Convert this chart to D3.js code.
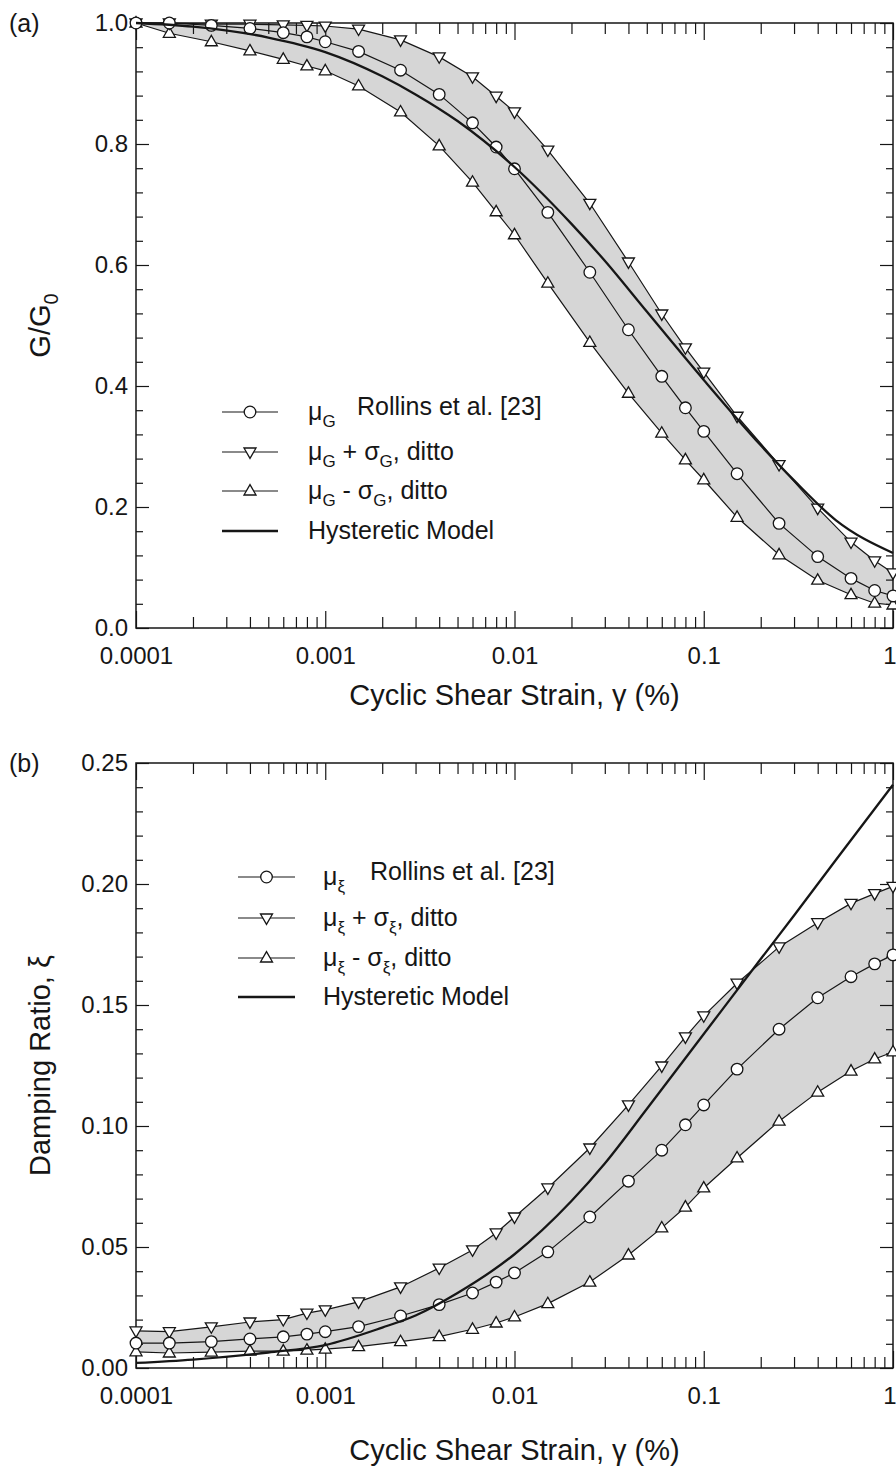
<!DOCTYPE html>
<html>
<head>
<meta charset="utf-8">
<script src="https://cdn.jsdelivr.net/npm/d3@7"></script>
<style>
  body { margin: 0; background: #ffffff; }
  svg text { font-family: "Liberation Sans", Arial, sans-serif; fill: #161616; }
</style>
</head>
<body>
<svg id="chart" width="896" height="1472"></svg>
<script>
// strain values where the Rollins et al. points sit (%)
var strain = [0.0001, 0.00015, 0.00025, 0.0004, 0.0006, 0.0008, 0.001, 0.0015, 0.0025, 0.004,
  0.006, 0.008, 0.01, 0.015, 0.025, 0.04, 0.06, 0.08, 0.1, 0.15, 0.25, 0.4, 0.6, 0.8, 1.0];

// (a) modulus reduction G/G0
var g_mean  = [1.0, 1.0, 0.996, 0.991, 0.984, 0.977, 0.969, 0.953, 0.922, 0.882,
  0.835, 0.795, 0.759, 0.687, 0.588, 0.493, 0.416, 0.364, 0.325, 0.255, 0.173, 0.118, 0.082, 0.062, 0.053];
var g_upper = [1.0, 1.0, 0.998, 0.998, 0.997, 0.996, 0.995, 0.99, 0.972, 0.944,
  0.911, 0.879, 0.853, 0.79, 0.702, 0.605, 0.519, 0.463, 0.423, 0.35, 0.27, 0.198, 0.142, 0.111, 0.091];
var g_lower = [1.0, 0.983, 0.969, 0.954, 0.94, 0.929, 0.921, 0.896, 0.853, 0.797,
  0.737, 0.688, 0.65, 0.57, 0.472, 0.388, 0.322, 0.278, 0.245, 0.183, 0.121, 0.079, 0.055, 0.041, 0.038];

// (b) damping ratio
var d_mean  = [0.0103, 0.0103, 0.0109, 0.012, 0.0129, 0.014, 0.015, 0.0171, 0.0215, 0.0262,
  0.031, 0.0355, 0.0393, 0.048, 0.0624, 0.0772, 0.090, 0.1005, 0.1087, 0.1235, 0.140, 0.153, 0.1617, 0.167, 0.1707];
var d_upper = [0.0153, 0.015, 0.017, 0.019, 0.020, 0.0227, 0.024, 0.0273, 0.0335, 0.0413,
  0.0488, 0.0558, 0.0624, 0.0744, 0.0909, 0.1087, 0.1248, 0.1368, 0.1455, 0.159, 0.174, 0.184, 0.192, 0.196, 0.199];
var d_lower = [0.0067, 0.0062, 0.0066, 0.007, 0.007, 0.0074, 0.0078, 0.0088, 0.0109, 0.013,
  0.016, 0.0186, 0.0211, 0.0266, 0.0355, 0.0467, 0.0579, 0.0665, 0.0744, 0.0868, 0.102, 0.114, 0.1227, 0.1277, 0.1306];

// hysteretic model curves
var hyst_strain  = [0.0001, 0.0002, 0.0005, 0.001, 0.002, 0.003, 0.005, 0.01, 0.02, 0.03, 0.05, 0.1, 0.2, 0.3, 0.5, 1.0];
var hyst_g       = [1.0, 0.994, 0.976, 0.952, 0.912, 0.882, 0.838, 0.762, 0.668, 0.607, 0.523, 0.41, 0.302, 0.244, 0.178, 0.124];
var hyst_damping = [0.0021, 0.0035, 0.0064, 0.0095, 0.0167, 0.0217, 0.031, 0.047, 0.069, 0.0845, 0.107, 0.138, 0.169, 0.187, 0.21, 0.241];

// ticks
var x_ticks = [0.0001, 0.001, 0.01, 0.1, 1];
var x_tick_labels = ['0.0001', '0.001', '0.01', '0.1', '1'];
var g_ticks = [0, 0.2, 0.4, 0.6, 0.8, 1.0];
var damping_ticks = [0, 0.05, 0.10, 0.15, 0.20, 0.25];

var svg = d3.select('#chart');
var left = 136, width = 757, height = 605;

var x = d3.scaleLog()
    .domain([0.0001, 1])
    .range([0, width]);

var x_minor = [];
[0.0001, 0.001, 0.01, 0.1].forEach(function(dec){
  for (var k = 2; k <= 9; k++) x_minor.push(k * dec);
});

var tri_up = 'M0,-6.4L6,4L-6,4Z';
var tri_down = 'M0,6.4L6,-4L-6,-4Z';

var style_axis = function(g){
  g.select('.domain').remove();
  g.selectAll('line').attr('stroke', '#161616').attr('stroke-width', 1.2);
  g.attr('font-family', null).attr('font-size', 24);
};

var draw_panel = function(p){
  var y = d3.scaleLinear()
      .domain(p.domain)
      .range([height, 0]);

  var g = svg.append('g')
      .attr('transform', 'translate(' + left + ',' + p.top + ')');

  var rows = strain.map(function(s, i){
    return {s: s, mean: p.mean[i], hi: p.upper[i], lo: p.lower[i]};
  });
  var hyst = hyst_strain.map(function(s, i){ return {s: s, v: p.hyst[i]}; });

  // grey band between mean +/- sigma
  var band = d3.area()
      .x(function(d){ return x(d.s); })
      .y0(function(d){ return y(d.lo); })
      .y1(function(d){ return y(d.hi); });
  g.append('path')
      .datum(rows)
      .attr('d', band)
      .attr('fill', '#d6d6d6');

  // axes, all ticks pointing inward
  var xb = g.append('g')
      .attr('transform', 'translate(0,' + height + ')')
      .call(d3.axisBottom(x).tickValues(x_ticks)
        .tickFormat(function(d, i){ return x_tick_labels[i]; })
        .tickSize(-17).tickPadding(19))
      .call(style_axis);
  // last label "1" sits on the right edge, keep it inside the page
  xb.selectAll('.tick text')
      .filter(function(d){ return d == 1; })
      .attr('text-anchor', 'end')
      .attr('x', 3);
  g.append('g')
      .attr('transform', 'translate(0,' + height + ')')
      .call(d3.axisBottom(x).tickValues(x_minor).tickFormat('').tickSize(-11))
      .call(style_axis);
  g.append('g')
      .call(d3.axisTop(x).tickValues(x_ticks).tickFormat('').tickSize(-17))
      .call(style_axis);
  g.append('g')
      .call(d3.axisTop(x).tickValues(x_minor).tickFormat('').tickSize(-11))
      .call(style_axis);

  g.append('g')
      .call(d3.axisLeft(y).tickValues(p.ticks).tickFormat(d3.format(p.fmt))
        .tickSize(-13).tickPadding(8))
      .call(style_axis);
  g.append('g')
      .call(d3.axisLeft(y).tickValues(p.minor).tickFormat('').tickSize(-7))
      .call(style_axis);
  g.append('g')
      .attr('transform', 'translate(' + width + ',0)')
      .call(d3.axisRight(y).tickValues(p.ticks).tickFormat('').tickSize(-13))
      .call(style_axis);
  g.append('g')
      .attr('transform', 'translate(' + width + ',0)')
      .call(d3.axisRight(y).tickValues(p.minor).tickFormat('').tickSize(-7))
      .call(style_axis);

  g.append('rect')
      .attr('width', width)
      .attr('height', height)
      .attr('fill', 'none')
      .attr('stroke', '#161616')
      .attr('stroke-width', 1.5);

  // series lines
  ['hi', 'mean', 'lo'].forEach(function(key){
    g.append('path')
        .datum(rows)
        .attr('d', d3.line()
          .x(function(d){ return x(d.s); })
          .y(function(d){ return y(d[key]); }))
        .attr('fill', 'none')
        .attr('stroke', '#161616')
        .attr('stroke-width', 1.2);
  });

  // markers
  var mk = function(key, shape){
    g.selectAll('.m-' + key)
        .data(rows)
      .enter().append('path')
        .attr('class', 'm-' + key)
        .attr('d', shape)
        .attr('transform', function(d){ return 'translate(' + x(d.s) + ',' + y(d[key]) + ')'; })
        .attr('fill', '#ffffff')
        .attr('stroke', '#161616')
        .attr('stroke-width', 1.3);
  };
  mk('lo', tri_up);
  mk('hi', tri_down);
  g.selectAll('.m-mean')
      .data(rows)
    .enter().append('circle')
      .attr('class', 'm-mean')
      .attr('cx', function(d){ return x(d.s); })
      .attr('cy', function(d){ return y(d.mean); })
      .attr('r', 5.8)
      .attr('fill', '#ffffff')
      .attr('stroke', '#161616')
      .attr('stroke-width', 1.3);

  // hysteretic model
  g.append('path')
      .datum(hyst)
      .attr('d', d3.line()
        .x(function(d){ return x(d.s); })
        .y(function(d){ return y(d.v); })
        .curve(d3.curveMonotoneX))
      .attr('fill', 'none')
      .attr('stroke', '#161616')
      .attr('stroke-width', 2.3);

  // legend
  var L = p.legend;
  var sym = [
    function(s){ s.append('circle').attr('r', 5.8); },
    function(s){ s.append('path').attr('d', tri_down); },
    function(s){ s.append('path').attr('d', tri_up); },
    null
  ];
  L.rows.forEach(function(ry, i){
    g.append('line')
        .attr('x1', L.x1).attr('x2', L.x2)
        .attr('y1', ry).attr('y2', ry)
        .attr('stroke', '#161616')
        .attr('stroke-width', i == 3 ? 2.3 : 1.2);
    if (sym[i]) {
      var s = g.append('g')
          .attr('transform', 'translate(' + (L.x1 + L.x2) / 2 + ',' + ry + ')')
          .attr('fill', '#ffffff')
          .attr('stroke', '#161616')
          .attr('stroke-width', 1.3);
      sym[i](s);
    }
    var t = g.append('text')
        .attr('x', L.tx)
        .attr('y', ry + 8)
        .attr('font-size', 25);
    var sub = function(txt){
      t.append('tspan').text(txt).attr('font-size', 17).attr('dy', 7);
    };
    var up = function(txt){
      t.append('tspan').text(txt).attr('dy', -7);
    };
    if (i == 0) {
      t.append('tspan').text('\u03bc');
      sub(p.sym);
      g.append('text')
          .attr('x', L.rx)
          .attr('y', ry + 3)
          .attr('font-size', 25)
          .text('Rollins et al. [23]');
    } else if (i == 1 || i == 2) {
      t.append('tspan').text('\u03bc');
      sub(p.sym);
      up(i == 1 ? ' + \u03c3' : ' - \u03c3');
      sub(p.sym);
      up(', ditto');
    } else {
      t.text('Hysteretic Model');
    }
  });

  // axis titles
  svg.append('text')
      .attr('x', left + width / 2)
      .attr('y', p.xtitle_y)
      .attr('text-anchor', 'middle')
      .attr('font-size', 29)
      .text('Cyclic Shear Strain, \u03b3 (%)');

  var yt = svg.append('text')
      .attr('transform', 'translate(50,' + (p.top + height / 2) + ') rotate(-90)')
      .attr('text-anchor', 'middle')
      .attr('font-size', 29);
  p.ytitle(yt);

  svg.append('text')
      .attr('x', 9)
      .attr('y', p.top + 9)
      .attr('font-size', 25)
      .text(p.label);
};

var range_minor = function(step, n){
  return d3.range(0, n + 1).filter(function(i){ return i % 5 != 0; })
    .map(function(i){ return +(i * step).toFixed(4); });
};

draw_panel({
  top: 23,
  domain: [0, 1],
  ticks: g_ticks,
  minor: range_minor(0.04, 25),
  fmt: '.1f',
  mean: g_mean, upper: g_upper, lower: g_lower, hyst: hyst_g,
  sym: 'G',
  label: '(a)',
  xtitle_y: 705,
  legend: {x1: 86, x2: 142, tx: 172, rx: 221, rows: [389, 429, 468, 508]},
  ytitle: function(t){
    t.append('tspan').text('G/G');
    t.append('tspan').text('0').attr('font-size', 20).attr('dy', 8);
  }
});

draw_panel({
  top: 763,
  domain: [0, 0.25],
  ticks: damping_ticks,
  minor: range_minor(0.01, 25),
  fmt: '.2f',
  mean: d_mean, upper: d_upper, lower: d_lower, hyst: hyst_damping,
  sym: '\u03be',
  label: '(b)',
  xtitle_y: 1460,
  legend: {x1: 102, x2: 159, tx: 187, rx: 234, rows: [114, 155, 195, 234]},
  ytitle: function(t){
    t.text('Damping Ratio, \u03be');
  }
});
</script>
</body>
</html>
